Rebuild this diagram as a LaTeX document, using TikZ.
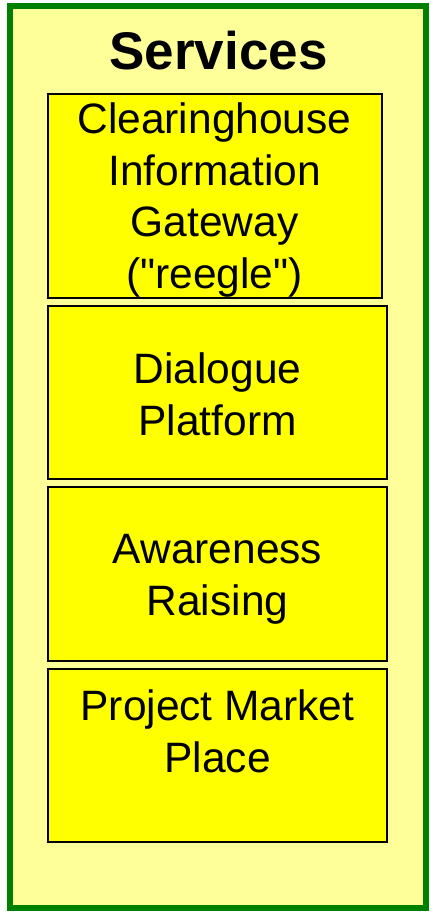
\documentclass[tikz,border=0pt]{standalone}
\usepackage{fontspec}
\setmainfont{Liberation Sans}
% no TeX mapping, so " stays a straight quote
\newfontfamily\labelfont{Liberation Sans}
\definecolor{paleyellow}{HTML}{FFFF99}
\definecolor{boxyellow}{HTML}{FFFF00}
\definecolor{framegreen}{HTML}{008000}
\begin{document}
\begin{tikzpicture}[x=1pt,y=-1pt,
    service/.style={draw=black,line width=1.5pt,fill=boxyellow,inner sep=0pt},
    label/.style={anchor=base,align=center,inner sep=0pt,
        font=\labelfont\fontsize{42.5}{51.5}\selectfont}]
    \useasboundingbox (0,0) rectangle (433,912);
    \draw[framegreen,line width=6pt,fill=paleyellow] (10.3,6.3) rectangle (425.5,908);

    \node[font=\labelfont\fontsize{53}{60}\selectfont\bfseries,anchor=base,inner sep=0pt] (title) at (218.5,70) {Services};

    \node[service,minimum width=334pt,minimum height=204pt] (gateway) at (215,196) {};
    \node[service,minimum width=339pt,minimum height=173pt] (dialogue) at (217.5,392.5) {};
    \node[service,minimum width=339pt,minimum height=174pt] (awareness) at (217.5,574) {};
    \node[service,minimum width=339pt,minimum height=173pt] (market) at (217.5,755.5) {};

    % base of a multi-line node is its last line
    \node[label] (gatewaytext) at (214.5,288) {Clearinghouse\\Information\\Gateway\\("reegle")};
    \node[label] (dialoguetext) at (217.5,435) {Dialogue\\Platform};
    \node[label] (awarenesstext) at (217.5,615) {Awareness\\Raising};
    \node[label] (markettext) at (217.5,772) {Project Market\\Place};
\end{tikzpicture}
\end{document}
